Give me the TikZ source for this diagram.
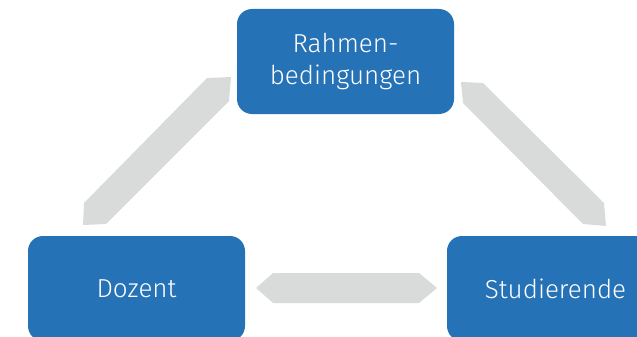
\documentclass[tikz,border=0pt]{standalone}
\usepackage{fontspec}
\setmainfont{Fira Sans Light}
\definecolor{boxblue}{HTML}{2672B6}
\definecolor{arrgray}{HTML}{D9DADA}
\begin{document}
\begin{tikzpicture}[x=1pt,y=-1pt,
  blockbox/.style={fill=boxblue, draw=none, rounded corners=15pt, minimum width=217pt, minimum height=105pt, text=white, align=center, font=\fontsize{26}{32}\selectfont},
  blockarrow/.style={fill=arrgray, draw=none}]
\useasboundingbox (0,0) rectangle (637,337);
\clip (0,0) rectangle (637,337);
\fill[blockarrow] (84,203) -- (207,78) -- (231,77) -- (229,101) -- (106,224) -- (83,225) -- cycle;
\fill[blockarrow] (461,82) -- (483,83) -- (604,203) -- (606,226) -- (583,224) -- (463,103) -- cycle;
\fill[blockarrow] (256,288) -- (273,273) -- (419,273) -- (437,288) -- (419,303) -- (273,303) -- cycle;
\node[blockbox] (rahmen) at (345.5,61.5) {Rahmen-\\bedingungen};
\node[blockbox] (dozent) at (136.5,288.5) {Dozent};
\node[blockbox] (stud) at (555.5,288.5) {Studierende};
\end{tikzpicture}
\end{document}
